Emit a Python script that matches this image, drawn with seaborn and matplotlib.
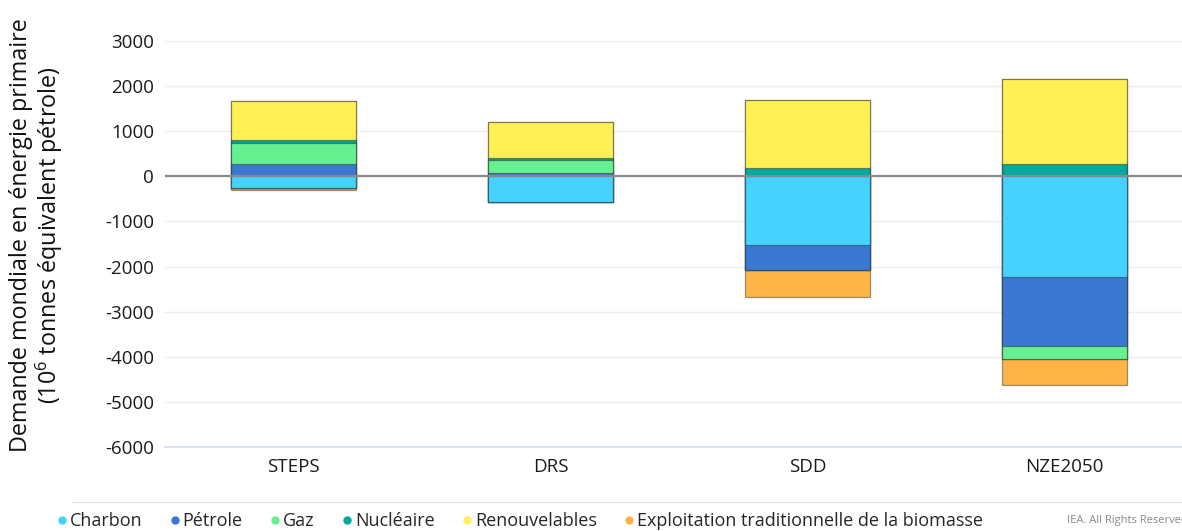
import pandas as pd
import matplotlib
matplotlib.use("Agg")
import matplotlib.pyplot as plt
import seaborn as sns
from matplotlib.lines import Line2D

# Donnees (variation de la demande mondiale en energie primaire, Mtep)
scenarios = ["STEPS", "DRS", "SDD", "NZE2050"]
sources = ["Charbon", "Pétrole", "Gaz", "Nucléaire", "Renouvelables",
           "Exploitation traditionnelle de la biomasse"]
charbon = [-265, -560, -1530, -2225]
petrole = [270, 80, -555, -1540]
gaz = [460, 280, 0, -295]
nucleaire = [75, 40, 190, 265]
renouvelables = [860, 815, 1500, 1885]
biomasse = [-40, 0, -590, -575]

couleurs = ["#45d2ff", "#3b78d2", "#66f08f", "#00a99d", "#fff056", "#ffb545"]

sns.set_style("white")
plt.rcParams["font.family"] = ["Open Sans", "DejaVu Sans"]
plt.rcParams["axes.unicode_minus"] = False

df = pd.DataFrame(
    dict(zip(sources, [charbon, petrole, gaz, nucleaire, renouvelables, biomasse])),
    index=scenarios,
)
pos = df.clip(lower=0).cumsum(axis=1)
neg = df.clip(upper=0).cumsum(axis=1)

fig = plt.figure(figsize=(11.82, 5.31), dpi=100)
ax = fig.add_axes([165 / 1182, 84 / 531, 1028 / 1182, 406 / 531])

# Empilement: on dessine les cumuls du plus grand au plus petit
for part in (pos, neg):
    for src, col in reversed(list(zip(sources, couleurs))):
        sns.barplot(x=scenarios, y=part[src].values, color=col, saturation=1,
                    width=0.486, edgecolor=(0.15, 0.15, 0.15, 0.45),
                    linewidth=0.9, ax=ax)

ax.axhline(0, color="#8a8a8a", lw=1.6, zorder=5)

ax.set_ylim(-6000, 3000)
ax.set_xlim(-0.5, 3.5)
ax.set_yticks(range(-6000, 3001, 1000))
ax.yaxis.grid(True, color="#eeeeee", lw=1)
ax.set_axisbelow(True)
ax.set_xlabel("")
ax.set_ylabel("")

ax.set_xticks(range(len(scenarios)))
ax.set_xticklabels(scenarios)
ax.set_xticks([-0.5, 0.5, 1.5, 2.5], minor=True)
ax.tick_params(axis="x", which="major", length=0, pad=8, labelsize=13.5,
               labelcolor="#1a1a1a")
ax.tick_params(axis="x", which="minor", length=6, width=1, color="#555555",
               direction="out")
ax.tick_params(axis="y", length=0, pad=8, labelsize=13.5, labelcolor="#1a1a1a")

for s in ["top", "right", "left"]:
    ax.spines[s].set_visible(False)
ax.spines["bottom"].set_color("#d3dbe6")
ax.spines["bottom"].set_linewidth(1.2)

fig.text(37 / 1182, 0.557,
         "Demande mondiale en énergie primaire\n(10$^{\\mathregular{6}}$ tonnes équivalent pétrole)",
         rotation=90, ha="center", va="center", multialignment="center",
         fontsize=16.8, linespacing=1.0, color="#111111")

# Legende en bas
fig.add_artist(Line2D([72 / 1182, 1], [1 - 502 / 531, 1 - 502 / 531],
                      color="#e6e6e6", lw=1, transform=fig.transFigure))
handles = [Line2D([], [], marker="o", linestyle="", markersize=5, color=c)
           for c in couleurs]
fig.legend(handles, sources, loc="center left",
           bbox_to_anchor=(58 / 1182, 10 / 531), ncol=6, frameon=False,
           fontsize=13, handletextpad=0.25, columnspacing=1.58,
           handlelength=0.4, borderaxespad=0, borderpad=0)
fig.text(1067 / 1182, 10 / 531, "IEA. All Rights Reserved", fontsize=8,
         color="#888888", va="center")

fig.savefig("out.png", dpi=100)
